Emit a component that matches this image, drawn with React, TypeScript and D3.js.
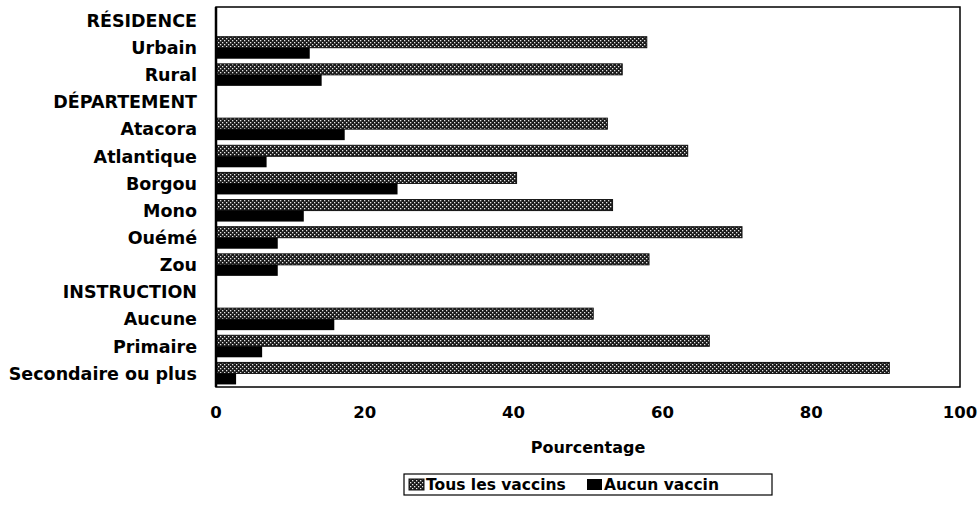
import React from "react";
import * as d3 from "d3";

const categories = [
  "RÉSIDENCE", "Urbain", "Rural",
  "DÉPARTEMENT", "Atacora", "Atlantique", "Borgou", "Mono", "Ouémé", "Zou",
  "INSTRUCTION", "Aucune", "Primaire", "Secondaire ou plus",
];
const tousLesVaccins = [null, 57.9, 54.6, null, 52.6, 63.4, 40.4, 53.3, 70.7, 58.2, null, 50.7, 66.3, 90.5];
const aucunVaccin = [null, 12.6, 14.2, null, 17.3, 6.8, 24.4, 11.8, 8.3, 8.3, null, 15.9, 6.2, 2.7];
const xTicks = [0, 20, 40, 60, 80, 100];
const seriesNames = ["Tous les vaccins", "Aucun vaccin"];

const W = 978, H = 508;
const left = 216, right = 960, top = 7, bottom = 387;
const FONT = "'DejaVu Sans', sans-serif";

export default function App() {
  const x = d3.scaleLinear().domain([0, 100]).range([left, right]);
  const y = d3.scaleBand<string>().domain(categories).range([top, bottom]);
  const barH = 11;
  const cx = (left + right) / 2;

  const lgLeft = 404, lgRight = 772;
  const lgFont = 15.5;

  return (
    <svg width={W} height={H} style={{ position: "absolute", left: 0, top: 0, background: "#fff" }}>
      <defs>
        <pattern id="dots" width="4" height="4" patternUnits="userSpaceOnUse">
          <rect width="4" height="4" fill="#1a1a1a" />
          <rect x="0" y="0" width="1.3" height="1.3" fill="#e8e8e8" />
          <rect x="2" y="2" width="1.3" height="1.3" fill="#e8e8e8" />
        </pattern>
      </defs>

      {categories.map((c, i) => {
        const yc = (y(c) as number) + y.bandwidth() / 2;
        const t = tousLesVaccins[i];
        const a = aucunVaccin[i];
        return (
          <g key={c}>
            <text x={197} y={yc} dy="0.36em" textAnchor="end" fontFamily={FONT}
              fontWeight="bold" fontSize={17.5} fill="#000">{c}</text>
            {t != null && (
              <rect x={x(0)} y={yc - barH} width={x(t) - x(0)} height={barH}
                fill="url(#dots)" stroke="#111" strokeWidth={1} />
            )}
            {a != null && (
              <rect x={x(0)} y={yc} width={x(a) - x(0)} height={barH} fill="#000" />
            )}
          </g>
        );
      })}

      <rect x={left} y={top} width={right - left} height={bottom - top}
        fill="none" stroke="#000" strokeWidth={1.5} />
      <line x1={left} x2={left} y1={top} y2={bottom} stroke="#000" strokeWidth={2.5} />

      {xTicks.map((v) => (
        <text key={v} x={x(v)} y={412} dy="0.36em" textAnchor="middle" fontFamily={FONT}
          fontWeight="bold" fontSize={16.5} fill="#000">{v}</text>
      ))}
      <text x={cx} y={447} dy="0.36em" textAnchor="middle" fontFamily={FONT}
        fontWeight="bold" fontSize={16} fill="#000">Pourcentage</text>

      <g>
        <rect x={lgLeft} y={474} width={lgRight - lgLeft} height={21} fill="#fff" stroke="#000" strokeWidth={1.2} />
        <rect x={lgLeft + 5} y={479} width={15} height={11} fill="url(#dots)" stroke="#111" strokeWidth={1} />
        <text x={lgLeft + 22} y={484.5} dy="0.36em" fontFamily={FONT} fontWeight="bold" fontSize={lgFont} fill="#000">{seriesNames[0]}</text>
        <rect x={lgLeft + 183} y={479} width={15} height={11} fill="#000" />
        <text x={lgLeft + 200} y={484.5} dy="0.36em" fontFamily={FONT} fontWeight="bold" fontSize={lgFont} fill="#000">{seriesNames[1]}</text>
      </g>
    </svg>
  );
}
